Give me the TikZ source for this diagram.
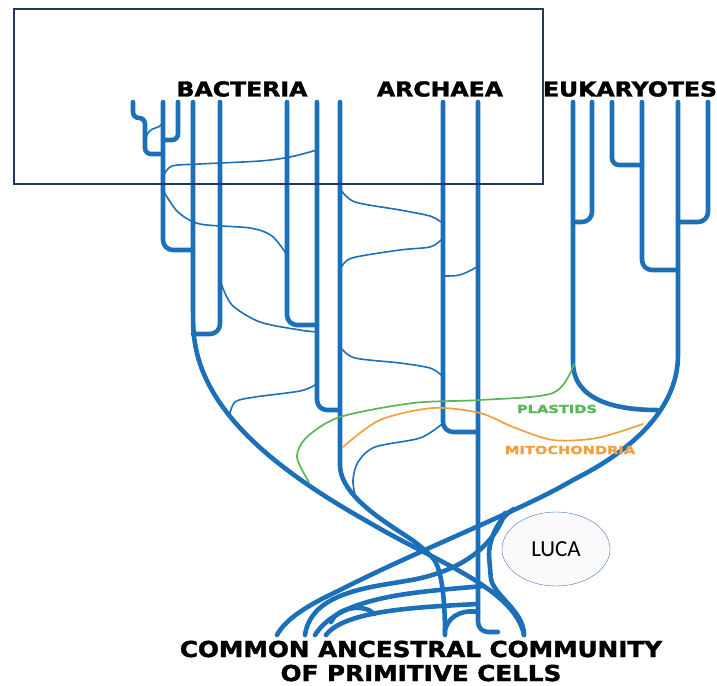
\documentclass[tikz,border=0pt]{standalone}
\usepackage{fontspec}
\usepackage{tikz}
\usetikzlibrary{positioning,calc,shapes.geometric}
\newfontfamily\headfont{DejaVu Sans}[BoldFeatures={FakeBold=1.6}]
\newfontfamily\calfont{Carlito}
\definecolor{treeblue}{HTML}{1B70B9}
\definecolor{plastgreen}{HTML}{5BB55B}
\definecolor{mitoorange}{HTML}{F0A040}
\definecolor{framenavy}{HTML}{1F3864}
\definecolor{lucaline}{HTML}{4472C4}

\begin{document}
\begin{tikzpicture}[
  x=1pt, y=-1pt,
  trunk/.style     ={draw=treeblue, line width=4.6pt, line cap=round, rounded corners=10pt},
  twig/.style      ={draw=treeblue, line width=1.6pt, line cap=round},
  endo/.style      ={line width=1.7pt, line cap=round},
  domainlabel/.style={font=\headfont\bfseries\fontsize{20.5}{20.5}\selectfont, xscale=1.15, inner sep=0pt},
  rootlabel/.style ={font=\headfont\bfseries\fontsize{22}{22}\selectfont, xscale=1.12, inner sep=0pt},
  organlabel/.style={font=\headfont\bfseries\fontsize{11}{11}\selectfont, xscale=1.33, inner sep=0pt}]

\useasboundingbox (0,0) rectangle (717,685);

%% domain labels
\node[domainlabel] (bacteria)   at (242,89) {BACTERIA};
\node[domainlabel] (archaea)    at (440,89) {ARCHAEA};
\node[domainlabel] (eukaryotes) at (630,89) {EUKARYOTES};

%% bacteria branches
\draw[trunk, rounded corners=6pt] (133,102) |- (145,118) |- (163,154);
\draw[trunk, rounded corners=6pt] (178,102) |- (163,140);
\draw[trunk] (163,102) |- (193,250);
\draw[trunk] (220,102) |- (193,334);
\draw[trunk] (287,102) |- (317,325);
\draw[trunk] (317,102) |- (340,410);
\draw[trunk] (193,102) -- (193,315) .. controls (195,400) and (260,460) .. (370,523)
  .. controls (440,563) and (515,590) .. (524,635);

%% archaea branches
\draw[trunk] (443,102) |- (478,432);
\draw[trunk] (478,102) |- (498,632);
\draw[trunk] (340,102) -- (340,455) .. controls (340,500) and (400,530) .. (425,550)
  .. controls (440,565) and (445,590) .. (445,635);

%% eukaryote branches
\draw[trunk] (592,102) |- (573,222);
\draw[trunk] (573,102) -- (573,352) .. controls (573,400) and (615,410) .. (657,410);
\draw[trunk, rounded corners=7pt] (612,102) |- (642,165);
\draw[trunk] (642,102) |- (678,270);
\draw[trunk] (708,102) |- (678,222);
\draw[trunk] (678,102) -- (678,345) .. controls (678,410) and (630,450) .. (573,480)
  .. controls (520,510) and (420,550) .. (340,590) .. controls (305,607) and (285,620) .. (277,635);

%% tangle near the root
\draw[trunk] (514,509) .. controls (495,520) and (488,545) .. (490,567)
  .. controls (492,595) and (524,610) .. (524,635);
\draw[trunk] (505,513) .. controls (488,560) and (440,575) .. (400,582)
  .. controls (350,590) and (310,600) .. (305,635);
\draw[trunk] (483,586) .. controls (420,592) and (340,595) .. (315,635);
\draw[trunk] (478,604) .. controls (420,607) and (345,610) .. (326,635);
\draw[trunk] (331,622) .. controls (338,606) and (366,604) .. (374,614);
\draw[trunk] (445,630) .. controls (450,612) and (468,610) .. (478,612);

%% lateral transfers
\draw[twig] (146,138) .. controls (150,124) and (158,132) .. (163,122);
\draw[twig] plot[smooth] coordinates {(164,175) (172,166) (200,164) (260,161) (290,157) (317,150)};
\draw[twig] plot[smooth] coordinates {(164,192) (178,212) (200,224) (250,228) (272,236) (287,255)};
\draw[twig] plot[smooth] coordinates {(221,283) (232,305) (260,322) (300,330) (317,332)};
\draw[twig] plot[smooth] coordinates {(229,417) (235,402) (255,397) (300,391) (317,384)};
\draw[twig] plot[smooth] coordinates {(341,190) (355,202) (400,210) (430,216) (441,222)};
\draw[twig] plot[smooth] coordinates {(341,268) (352,258) (400,250) (430,247) (441,240)};
\draw[twig] plot[smooth] coordinates {(341,348) (355,358) (400,363) (430,368) (441,375)};
\draw[twig] (443,276) .. controls (460,276) .. (477,267);
\draw[twig] plot[smooth] coordinates {(442,424) (420,438) (375,447) (358,462) (353,480) (355,495)};

%% endosymbioses
\draw[endo, draw=plastgreen] plot[smooth] coordinates {(574,364) (553,393) (480,400)
  (413,403) (340,417) (307,437) (297,457) (309,482)};
\draw[endo, draw=mitoorange] plot[smooth] coordinates {(343,447) (380,420) (433,408)
  (480,413) (513,427) (553,440) (597,438) (643,424)};
\node[organlabel, text=plastgreen]  (plastids)     at (557,409) {PLASTIDS};
\node[organlabel, text=mitoorange]  (mitochondria) at (570,450) {MITOCHONDRIA};

%% root label and LUCA
\node[draw=lucaline, fill=black!2, ellipse, minimum width=108pt, minimum height=74pt,
      font=\calfont\fontsize{23}{23}\selectfont, inner sep=0pt] (luca) at (556,549) {LUCA};
\node[rootlabel] (community) at (421,649) {COMMON ANCESTRAL COMMUNITY};
\node[rootlabel, below=7pt of community] (cells) {OF PRIMITIVE CELLS};

%% overlay frame
\draw[framenavy, line width=1.5pt] (14,9) rectangle (543,184);
\end{tikzpicture}
\end{document}
